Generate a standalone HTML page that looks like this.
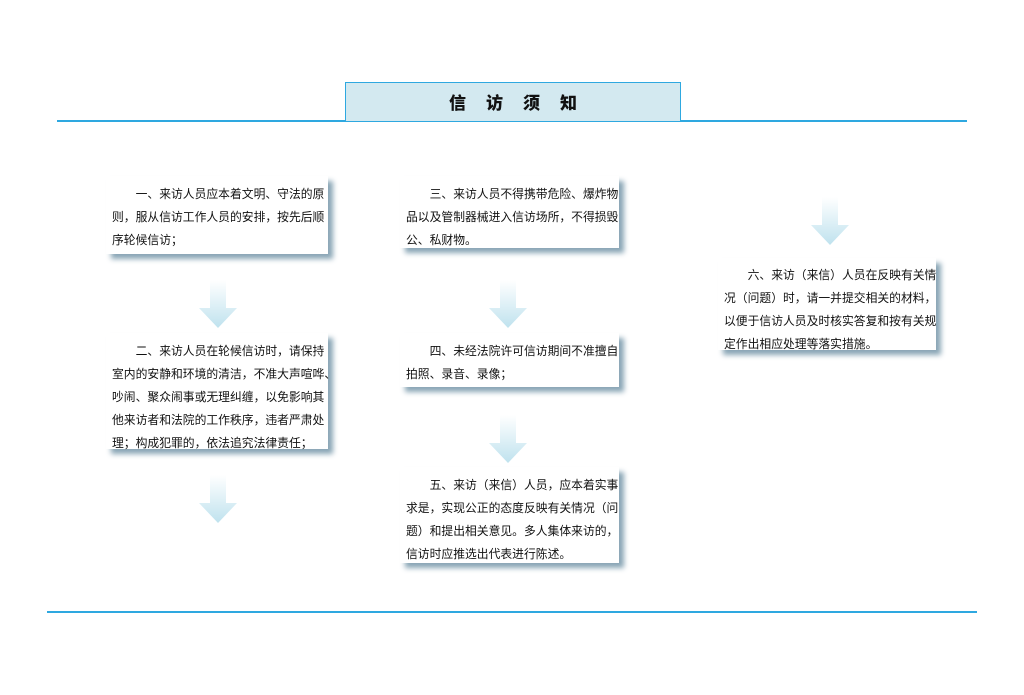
<!DOCTYPE html>
<html><head><meta charset="utf-8"><style>
body{margin:0;width:1024px;height:695px;background:#fff;position:relative;overflow:hidden;font-family:"Liberation Sans","Noto Sans CJK SC",sans-serif;}
.l{position:absolute;height:2px;background:#2ea8e0;}
.title{position:absolute;left:345px;top:82px;width:334px;height:38px;background:#d3e9f0;border:1.5px solid #2ea8e0;border-bottom:none;text-align:center;line-height:42px;font-weight:900;font-size:17px;letter-spacing:20px;padding-left:0;text-indent:20px;color:#111;}
.box{position:absolute;background:#fff;box-shadow:5px 5px 5px #8aa6b6;font-size:11.8px;color:#111;}
.box div{position:absolute;left:6px;white-space:nowrap;}
.arr{position:absolute;width:34px;height:48px;}
</style></head><body>
<div class="l" style="left:57px;top:120px;width:910px"></div>
<div class="l" style="left:47px;top:611px;width:930px"></div>
<div class="title">信访须知</div>

<div class="box" style="left:106px;top:176px;width:222px;height:78px">
<div style="top:9px">　　一、来访人员应本着文明、守法的原</div>
<div style="top:32px">则，服从信访工作人员的安排，按先后顺</div>
<div style="top:55px">序轮候信访；</div></div>

<div class="box" style="left:106px;top:333px;width:222px;height:116px">
<div style="top:9px">　　二、来访人员在轮候信访时，请保持</div>
<div style="top:32px">室内的安静和环境的清洁，不准大声喧哗、</div>
<div style="top:55px">吵闹、聚众闹事或无理纠缠，以免影响其</div>
<div style="top:78px">他来访者和法院的工作秩序，违者严肃处</div>
<div style="top:101px">理；构成犯罪的，依法追究法律责任；</div></div>

<div class="box" style="left:400px;top:176px;width:219px;height:72px">
<div style="top:9px">　　三、来访人员不得携带危险、爆炸物</div>
<div style="top:32px">品以及管制器械进入信访场所，不得损毁</div>
<div style="top:55px">公、私财物。</div></div>

<div class="box" style="left:400px;top:333px;width:219px;height:54px">
<div style="top:9px">　　四、未经法院许可信访期间不准擅自</div>
<div style="top:32px">拍照、录音、录像；</div></div>

<div class="box" style="left:400px;top:467px;width:219px;height:96px">
<div style="top:9px">　　五、来访（来信）人员，应本着实事</div>
<div style="top:32px">求是，实现公正的态度反映有关情况（问</div>
<div style="top:55px">题）和提出相关意见。多人集体来访的，</div>
<div style="top:78px">信访时应推选出代表进行陈述。</div></div>

<div class="box" style="left:718px;top:258px;width:218px;height:92px">
<div style="top:8px">　　六、来访（来信）人员在反映有关情</div>
<div style="top:31px">况（问题）时，请一并提交相关的材料，</div>
<div style="top:54px">以便于信访人员及时核实答复和按有关规</div>
<div style="top:77px">定作出相应处理等落实措施。</div></div>

<svg width="1024" height="695" style="position:absolute;left:0;top:0">
<defs><linearGradient id="g" x1="0" y1="0" x2="0" y2="1"><stop offset="0" stop-color="#fff"/><stop offset="1" stop-color="#bfe2ee"/></linearGradient></defs>
<g fill="url(#g)">
<path d="M210,280h16v28h11l-19,20l-19,-20h11z"/>
<path d="M210,475h16v28h11l-19,20l-19,-20h11z"/>
<path d="M500,280h16v28h11l-19,20l-19,-20h11z"/>
<path d="M500,415h16v28h11l-19,20l-19,-20h11z"/>
<path d="M822,197h16v28h11l-19,20l-19,-20h11z"/>
</g></svg>
</body></html>
